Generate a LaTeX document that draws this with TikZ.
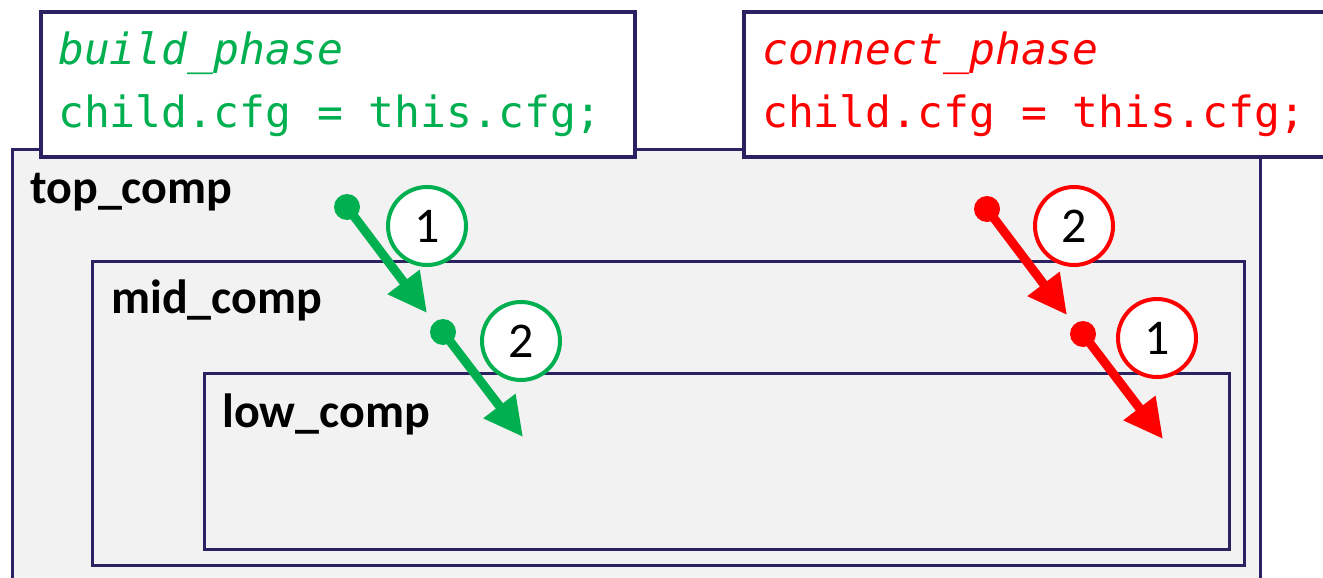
\documentclass[tikz,border=0pt]{standalone}
\usepackage{fontspec}
\setmonofont{DejaVu Sans Mono}
\newfontfamily\lblfont{Carlito}
\usetikzlibrary{arrows.meta}
\definecolor{navy}{HTML}{2B2361}
\definecolor{cgreen}{HTML}{00B050}
\definecolor{cred}{HTML}{FF0000}
\definecolor{panel}{HTML}{F2F2F2}

\begin{document}
\begin{tikzpicture}[x=1pt,y=-1pt,
  comp/.style={draw=navy, line width=2.5pt, fill=panel, anchor=north west, inner sep=0pt},
  codebox/.style={draw=navy, line width=4pt, fill=white, anchor=north west, inner sep=0pt},
  code/.style={anchor=base west, inner sep=0pt, font=\fontsize{43}{50}\selectfont\ttfamily},
  lbl/.style={anchor=base west, inner sep=0pt, font=\fontsize{48}{52}\selectfont\lblfont\bfseries},
  badge/.style={circle, line width=4pt, fill=white, minimum size=78pt, inner sep=0pt,
                font=\fontsize{50}{54}\selectfont\lblfont},
  dotnode/.style={circle, inner sep=0pt, minimum size=26pt},
  flow/.style={line width=9pt, -{Triangle[length=39pt,width=38pt]}},
]
\useasboundingbox (0,0) rectangle (1323,578);

% nested components
\node[comp, minimum width=1248pt, minimum height=460pt] (top) at (11,148) {};
\node[comp, minimum width=1152pt, minimum height=304pt] (mid) at (91,260) {};
\node[comp, minimum width=1025pt, minimum height=176pt] (low) at (203,372) {};

\node[lbl] (toplbl) at (30,203) {top\_comp};
\node[lbl] (midlbl) at (111,313) {mid\_comp};
\node[lbl] (lowlbl) at (222,427) {low\_comp};

% phase code boxes
\node[codebox, minimum width=594pt, minimum height=145pt] (build) at (39,10) {};
\node[codebox, minimum width=620pt, minimum height=145pt] (connect) at (742,10) {};

\node[code, text=cgreen] (buildname) at (58,65) {\itshape build\_phase};
\node[code, text=cgreen] (buildstmt) at (58,128) {child.cfg = this.cfg;};
\node[code, text=cred] (connname) at (762,65) {\itshape connect\_phase};
\node[code, text=cred] (connstmt) at (762,128) {child.cfg = this.cfg;};

% order badges
\node[badge, draw=cgreen] (g1) at (427,226) {1};
\node[badge, draw=cgreen] (g2) at (521,341) {2};
\node[badge, draw=cred] (r2) at (1074,226) {2};
\node[badge, draw=cred] (r1) at (1157,338) {1};

% propagation arrows
\node[dotnode, fill=cgreen] (g1s) at (347,207) {};
\coordinate (g1e) at (427,313);
\node[dotnode, fill=cgreen] (g2s) at (443,332) {};
\coordinate (g2e) at (523,437);
\node[dotnode, fill=cred] (r2s) at (987,209) {};
\coordinate (r2e) at (1067,315);
\node[dotnode, fill=cred] (r1s) at (1083,334) {};
\coordinate (r1e) at (1163,439);

\draw[flow, cgreen] (g1s.center) -- (g1e);
\draw[flow, cgreen] (g2s.center) -- (g2e);
\draw[flow, cred] (r2s.center) -- (r2e);
\draw[flow, cred] (r1s.center) -- (r1e);
\end{tikzpicture}
\end{document}
